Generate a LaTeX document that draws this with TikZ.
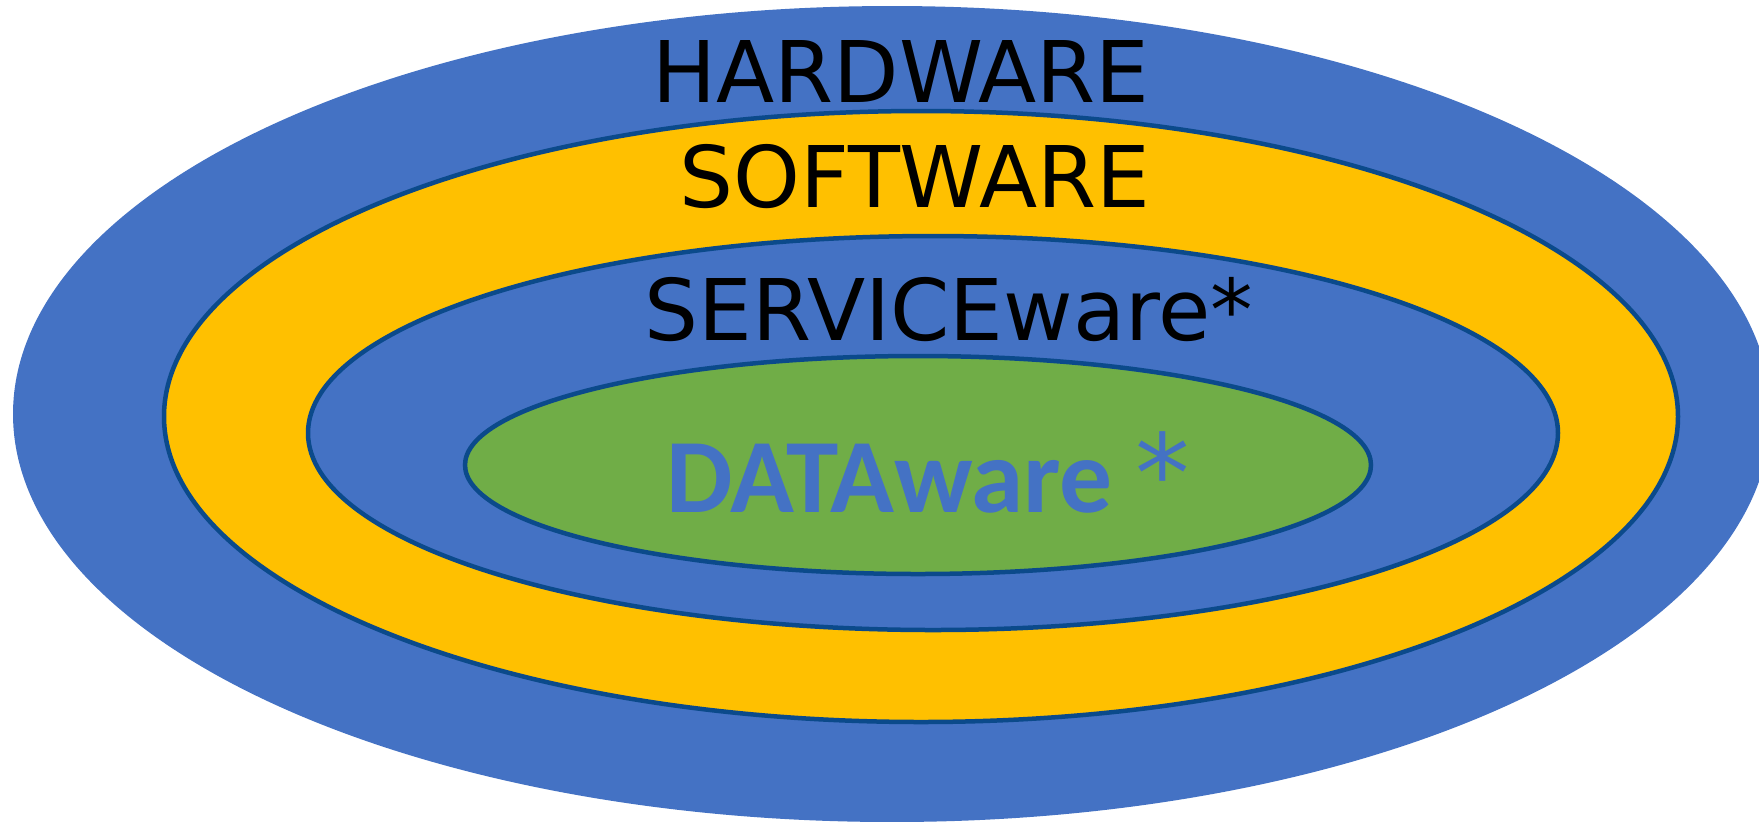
\documentclass[tikz,border=0pt]{standalone}
\usepackage{fontspec}
\setmainfont{DejaVu Sans}
\newfontfamily\datafont{Carlito}
\newfontfamily\astfont{DejaVu Sans}
\usetikzlibrary{shapes.geometric}
\definecolor{hwblue}{HTML}{4472C4}
\definecolor{swyellow}{HTML}{FFC000}
\definecolor{dgreen}{HTML}{70AD47}
\definecolor{rimblue}{HTML}{0B4A8B}
\tikzset{
  ring/.style={ellipse, inner sep=0pt, outer sep=0pt},
  rimmed/.style={ring, draw=rimblue, line width=0.45mm},
  label/.style={inner sep=0pt, anchor=base, font=\fontsize{24.2pt}{28pt}\selectfont, text=black},
  datalabel/.style={inner sep=0pt, anchor=base west, font=\datafont\bfseries\fontsize{30pt}{34pt}\selectfont, text=hwblue}
}
\begin{document}
\begin{tikzpicture}[x=0.1mm,y=-0.1mm]
\clip (0,0) rectangle (1759,821);
\fill[white] (0,0) rectangle (1759,821);
\node[ring, fill=hwblue, minimum width=175.8mm, minimum height=81.6mm] (hw) at (892,414) {};
\node[rimmed, fill=swyellow, minimum width=151.4mm, minimum height=61.1mm] (sw) at (921,416.5) {};
\node[rimmed, fill=hwblue, minimum width=125.0mm, minimum height=39.4mm] (sv) at (933,433) {};
\node[rimmed, fill=dgreen, minimum width=90.6mm, minimum height=21.8mm] (dt) at (918,465) {};
\node[label] (hwt) at (901,102) {HARDWARE};
\node[label] (swt) at (915,207) {SOFTWARE};
\node[label] (svt) at (949,340) {SERVICEware*};
\node[datalabel] (dtt) at (666,512) {DATAware\hspace{2.2mm}{\astfont\mdseries\fontsize{31pt}{34pt}\selectfont*}};
\end{tikzpicture}
\end{document}
